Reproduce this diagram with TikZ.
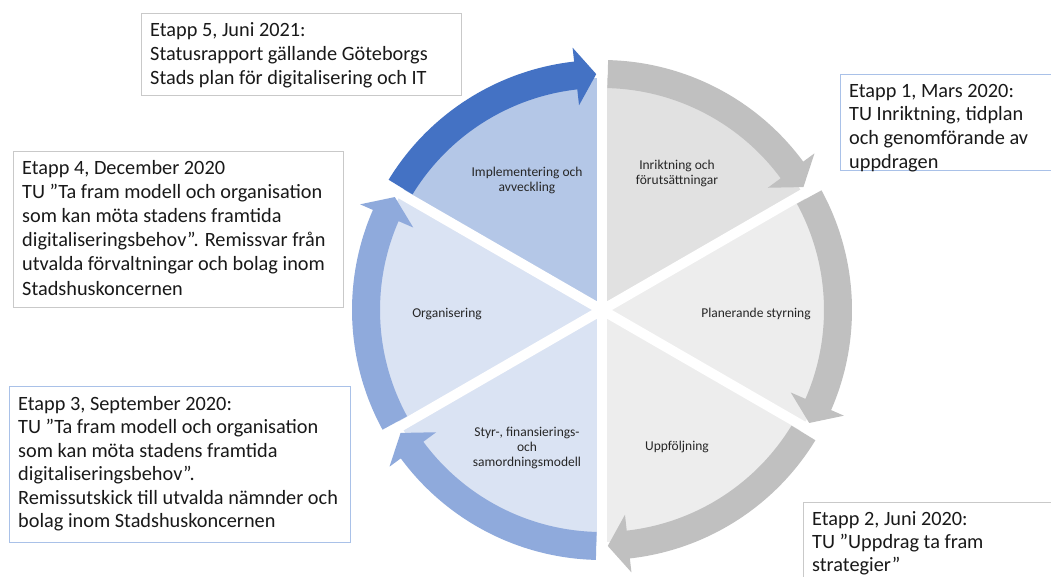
\documentclass[tikz,border=0pt]{standalone}
\usepackage{fontspec}
\setmainfont{Carlito}
\definecolor{wgrayA}{HTML}{E1E1E1}
\definecolor{wgrayB}{HTML}{EDEDED}
\definecolor{agray}{HTML}{C0C0C0}
\definecolor{wblueA}{HTML}{B4C7E7}
\definecolor{wblueB}{HTML}{DAE3F3}
\definecolor{ablueA}{HTML}{4472C4}
\definecolor{ablueB}{HTML}{8FAADC}
\definecolor{boxgray}{HTML}{C9C9C9}
\definecolor{boxblue}{HTML}{A9C1E8}
\newcommand\cwarrow[2]{%
  \fill[#2] ({#1-1.4}:222) arc[start angle={#1-1.4}, end angle={#1-53.6}, radius=222]
    -- ({#1-53.6}:206) -- ({#1-58.6}:236) -- ({#1-53.6}:264) -- ({#1-53.6}:250)
    arc[start angle={#1-53.6}, end angle={#1-1.4}, radius=250] -- cycle;}
\begin{document}
\begin{tikzpicture}[x=1pt,y=-1pt,
  boxtext/.style={anchor=north west, inner sep=0pt, align=left, font=\fontsize{20.3}{24.2}\selectfont, text=black!90},
  wlabel/.style={align=center, inner sep=0pt, font=\fontsize{13.5}{15}\selectfont, text=black!85},
  graybox/.style={draw=boxgray, line width=1pt},
  bluebox/.style={draw=boxblue, line width=1pt}]
\useasboundingbox (0,0) rectangle (1051,576);
\clip (0,0) rectangle (1051,576);
\fill[white] (0,0) rectangle (1051,576);
% cycle
\begin{scope}[shift={(602,310)}, yscale=-1]
  \fill[wgrayA] (0,0) -- (30:232) arc[start angle=30, end angle=90, radius=232] -- cycle;
  \fill[wgrayB] (0,0) -- (-30:232) arc[start angle=-30, end angle=30, radius=232] -- cycle;
  \fill[wgrayB] (0,0) -- (-90:232) arc[start angle=-90, end angle=-30, radius=232] -- cycle;
  \fill[wblueB] (0,0) -- (-150:232) arc[start angle=-150, end angle=-90, radius=232] -- cycle;
  \fill[wblueB] (0,0) -- (150:232) arc[start angle=150, end angle=210, radius=232] -- cycle;
  \fill[wblueA] (0,0) -- (90:232) arc[start angle=90, end angle=150, radius=232] -- cycle;
  \foreach \a in {30,90,150,210,270,330}
    \draw[white, line width=10pt] (0,0) -- (\a:240);
  \cwarrow{150}{ablueA}
  \cwarrow{210}{ablueB}
  \cwarrow{270}{ablueB}
  \cwarrow{330}{agray}
  \cwarrow{30}{agray}
  \cwarrow{90}{agray}
\end{scope}
% wedge labels
\node[wlabel] (impl) at (527,180) {Implementering och\\avveckling};
\node[wlabel] (inri) at (677,173) {Inriktning och\\förutsättningar};
\node[wlabel] (plan) at (756,314) {Planerande styrning};
\node[wlabel] (uppf) at (677,447) {Uppföljning};
\node[wlabel] (styr) at (527,448) {Styr-, finansierings-\\och\\samordningsmodell};
\node[wlabel] (orga) at (447,314) {Organisering};
% boxes
\draw[graybox] (141.5,13.5) rectangle (461,95);
\node[boxtext] (e5) at (150,19) {\strut Etapp 5, Juni 2021:\\Statusrapport gällande Göteborgs\\Stads plan för digitalisering och IT};
\draw[graybox] (13,151.5) rectangle (343,307);
\node[boxtext] (e4) at (22,157) {\strut Etapp 4, December 2020\\TU ”Ta fram modell och organisation\\som kan möta stadens framtida\\digitaliseringsbehov”. Remissvar från\\utvalda förvaltningar och bolag inom\\Stadshuskoncernen};
\draw[bluebox] (9,386) rectangle (350,542);
\node[boxtext, font=\fontsize{20.3}{23.5}\selectfont] (e3) at (18,393.5) {\strut Etapp 3, September 2020:\\TU ”Ta fram modell och organisation\\som kan möta stadens framtida\\digitaliseringsbehov”.\\Remissutskick till utvalda nämnder och\\bolag inom Stadshuskoncernen};
\draw[bluebox] (840,74) rectangle (1060,170);
\node[boxtext, font=\fontsize{20.3}{23.7}\selectfont] (e1) at (849,80.4) {\strut Etapp 1, Mars 2020:\\TU Inriktning, tidplan\\och genomförande av\\uppdragen};
\draw[graybox] (803,502) rectangle (1060,590);
\node[boxtext, font=\fontsize{20.3}{23}\selectfont] (e2) at (812,509) {\strut Etapp 2, Juni 2020:\\TU ”Uppdrag ta fram\\strategier”};
\end{tikzpicture}
\end{document}
